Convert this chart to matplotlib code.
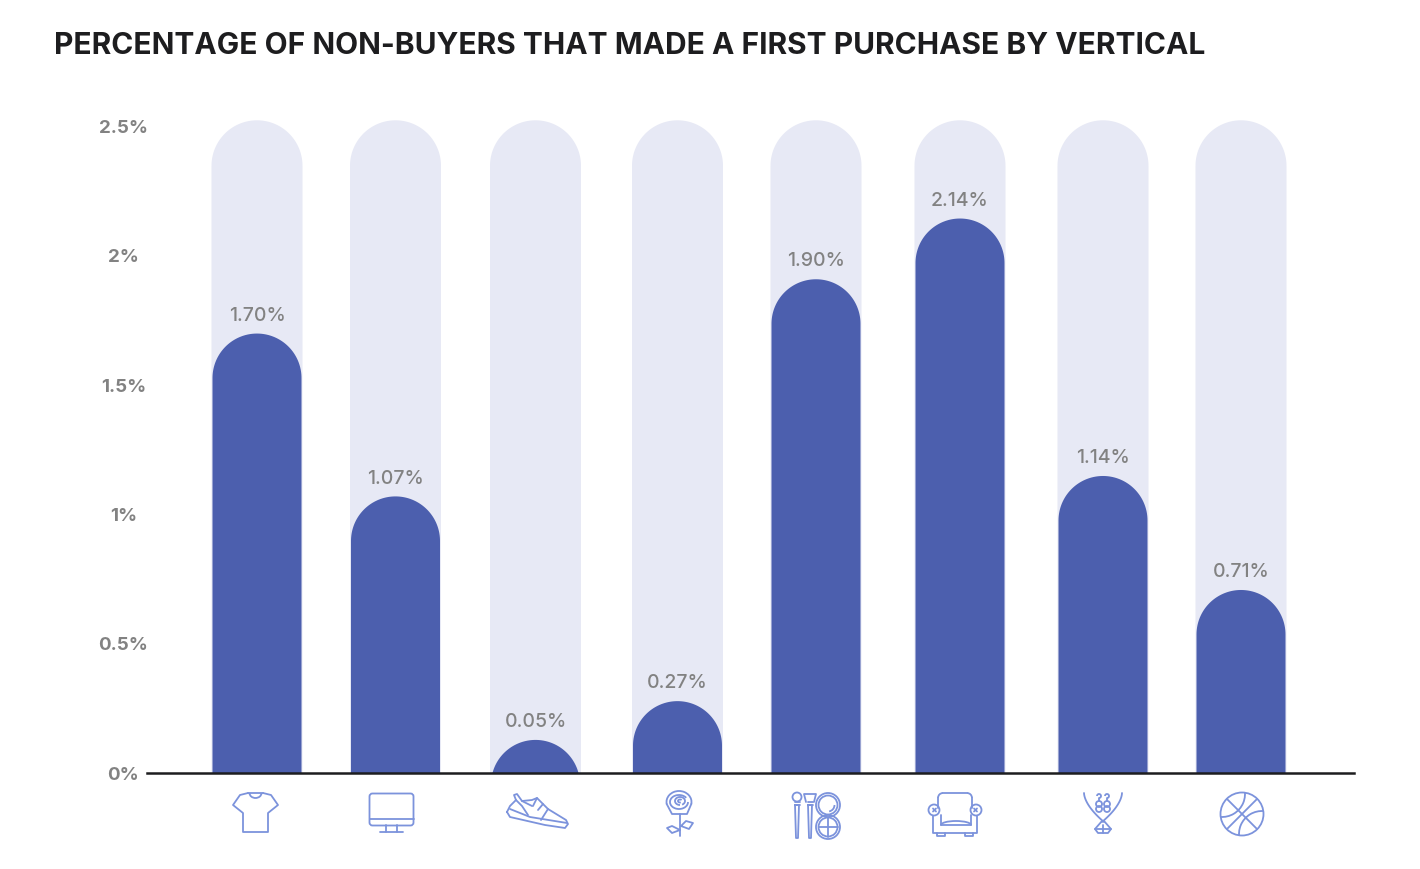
import numpy as np
import matplotlib
matplotlib.use('Agg')
import matplotlib.pyplot as plt
from matplotlib.patches import Circle, Arc, FancyBboxPatch

plt.rcParams['font.family'] = ['Inter', 'DejaVu Sans']

title = 'PERCENTAGE OF NON-BUYERS THAT MADE A FIRST PURCHASE BY VERTICAL'
labels = ['1.70%', '1.07%', '0.05%', '0.27%', '1.90%', '2.14%', '1.14%', '0.71%']
# heights as drawn, the 0.05 bar is drawn taller than its value
heights = [1.70, 1.07, 0.128, 0.278, 1.91, 2.145, 1.149, 0.708]
centers = [257, 395.5, 535.5, 677.5, 816, 960, 1103, 1241]
yticks = [0, 0.5, 1, 1.5, 2, 2.5]
yticklabels = ['0%', '0.5%', '1%', '1.5%', '2%', '2.5%']
track_top = 2.525

W, H = 1420, 869
BAR = '#4c5fae'
TRACK = '#e7e9f5'
ICON = '#7c93dc'
GREY = '#828282'

fig = plt.figure(figsize=(W / 100, H / 100), dpi=100)

# main axes, x in figure pixels, y in percent
left, right, bottom, top = 147, 1354, 773, 100
ax = fig.add_axes([left / W, 1 - bottom / H, (right - left) / W, (bottom - top) / H])
ax.set_xlim(left, right)
px_per_unit = 258.5
ax.set_ylim(0, (bottom - top) / px_per_unit)


def pill(x, h, color, width, z):
    # one outline for body and round cap, the axes clip it at zero
    ry = (width / 2) / px_per_unit
    t = np.linspace(np.pi, 0, 80)
    xs = np.concatenate([[x - width / 2], x + width / 2 * np.cos(t), [x + width / 2]])
    ys = np.concatenate([[-1], h - ry + ry * np.sin(t), [-1]])
    ax.fill(xs, ys, color=color, zorder=z, linewidth=0)


for x, h, lab in zip(centers, heights, labels):
    pill(x, track_top, TRACK, 91, 1)
    pill(x, h, BAR, 89, 2)
    ax.text(x, h + 0.034, lab, ha='center', va='bottom', fontsize=14, fontweight='medium',
            color=GREY, zorder=3)

for s in ['top', 'right', 'left']:
    ax.spines[s].set_visible(False)
ax.spines['bottom'].set_color('#1d1d1f')
ax.spines['bottom'].set_linewidth(1.8)
ax.spines['bottom'].set_zorder(5)
ax.set_xticks([])
ax.set_yticks(yticks)
ax.set_yticklabels(yticklabels, fontsize=13.5, fontweight='bold', color=GREY, ha='center')
ax.tick_params(axis='y', length=0, pad=17)

# overlay in pixel coordinates for the title and icons
ov = fig.add_axes([0, 0, 1, 1])
ov.set_xlim(0, W)
ov.set_ylim(H, 0)
ov.axis('off')
ov.patch.set_alpha(0)

ov.text(54, 46, title, fontsize=21.55, fontweight='bold', color='#1d1d1f', ha='left', va='center')

LW = 1.3


def line(xs, ys):
    ov.plot(xs, ys, color=ICON, lw=LW, solid_capstyle='round', solid_joinstyle='round')


def circ(x, y, r):
    return ov.add_patch(Circle((x, y), r, fill=False, ec=ICON, lw=LW))


def arc(x, y, w, h, a, b):
    return ov.add_patch(Arc((x, y), w, h, theta1=a, theta2=b, ec=ICON, lw=LW))


# t-shirt
line([248, 240, 233, 243, 243, 268, 268, 278, 271, 263],
     [793, 795, 805, 813, 832, 832, 813, 805, 795, 793])
line([248, 263], [793, 793])
arc(255.5, 793, 12, 10, 0, 180)

# monitor
ov.add_patch(FancyBboxPatch((371, 795), 41, 29, boxstyle='round,pad=1.5,rounding_size=3',
                            fill=False, ec=ICON, lw=LW))
line([369.5, 413.5], [819, 819])
line([386, 386], [825, 832])
line([397, 397], [825, 832])
line([380, 403], [832, 832])

# shoe
line([507, 510, 516, 514, 517, 522, 532, 537, 548, 566, 568, 565, 545, 510, 507],
     [812, 806, 800, 795, 794, 801, 800, 798, 809, 820, 824, 828, 825, 817, 812])
line([510, 530, 567], [809, 817, 823])
line([522, 532], [801, 806])
line([516, 522, 528], [800, 806, 815])
line([537, 533], [798, 806])
line([543, 538], [804, 810])
line([548, 541], [809, 820])

# rose
arc(679, 802, 25, 22, 170, 370)
line([666.7, 672, 687, 691.3], [804, 814, 814, 804])
arc(679, 802, 18, 14, 0, 330)
arc(680, 801, 10, 8, 90, 420)
arc(680, 801, 4, 3, 60, 330)
line([680, 680], [814, 836])
line([680, 672, 667, 672, 680], [830, 826, 828, 833, 830])
line([681, 686, 693, 689, 681], [826, 821, 823, 829, 826])

# brushes and compacts
for bx in [797, 810]:
    line([bx - 2, bx - 1, bx + 1, bx + 2, bx - 2], [805, 838, 838, 805, 805])
    line([bx - 2.5, bx + 2.5], [802, 802])
    line([bx - 2.5, bx + 2.5], [805, 805])
circ(797, 797, 4.5)
line([806, 804, 816, 814], [802, 794, 794, 802])
circ(828, 805, 12)
circ(828, 805, 9.5)
arc(828, 805, 13, 13, 0, 80)
circ(828, 827, 12)
circ(828, 827, 9.5)
line([818.5, 837.5], [827, 827])
line([828, 828], [817.5, 836.5])

# armchair
line([938, 938], [808, 798])
arc(943, 798, 10, 10, 180, 270)
line([943, 967], [793, 793])
arc(967, 798, 10, 10, 270, 360)
line([972, 972], [798, 808])
circ(934, 810, 5.5)
circ(976, 810, 5.5)
line([933, 936], [808.5, 811.5])
line([933, 936], [811.5, 808.5])
line([974, 977], [808.5, 811.5])
line([974, 977], [811.5, 808.5])
line([933, 933, 977, 977], [816, 833, 833, 816])
line([941, 941], [815, 825])
line([971, 971], [815, 825])
arc(956, 825, 30, 8, 180, 360)
line([941, 971], [825, 825])
line([937, 937, 945, 945], [833, 836, 836, 833])
line([965, 965, 973, 973], [833, 836, 836, 833])

# necklace
necklace_t = np.linspace(0, 1, 20)
line(1084 + 20 * necklace_t ** 1.7, 793 + 29 * necklace_t)
line(1122 - 20 * necklace_t ** 1.7, 793 + 29 * necklace_t)
line([1102, 1095, 1098, 1108, 1111, 1104], [821, 829, 833, 833, 829, 821])
line([1095, 1111], [829, 829])
line([1103, 1103], [825, 833])
for ex in [1099, 1107]:
    arc(ex, 796, 4, 4, 180, 90)
    line([ex, ex], [798, 801])
    circ(ex, 804, 3)
    circ(ex, 809, 3)

# basketball
ball = circ(1242, 814, 21.5)
line([1227, 1257], [799, 829])
line([1227, 1257], [829, 799])
for cx, cy, a, b in [(1222, 794, -50, 95), (1262, 834, 130, 275)]:
    seam = arc(cx, cy, 46, 46, a, b)
    seam.set_clip_path(ball)

fig.savefig('out.png', dpi=100, facecolor='white')
